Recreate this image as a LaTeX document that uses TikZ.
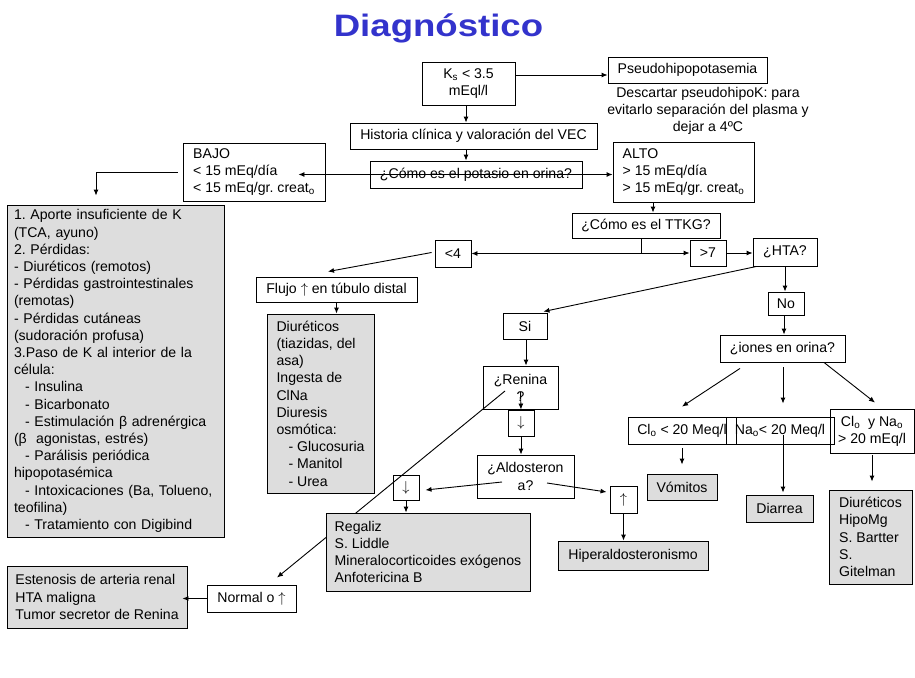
\documentclass[tikz,border=0pt]{standalone}
\usepackage{fontspec}
\setmainfont{Liberation Sans}
\usetikzlibrary{arrows.meta,backgrounds}
\definecolor{panel}{RGB}{221,221,221}
\definecolor{titleblue}{RGB}{51,51,204}
\frenchspacing

\begin{document}
\begin{tikzpicture}[x=1pt, y=-1pt,
  font=\fontsize{14.1}{17.2}\selectfont,
  box/.style = {shape=rectangle, draw, line width=0.9pt,
    inner sep=0pt, align=center},
  panelbox/.style = {box, fill=panel, align=left},
  arr/.style = {-{Latex[length=6pt,width=5pt]}, line width=0.9pt},
  dblarr/.style = {{Latex[length=6pt,width=5pt]}-{Latex[length=6pt,width=5pt]}, line width=0.9pt}]
  \useasboundingbox (0,0) rectangle (915,677);
  \begin{scope}[on background layer]
    \fill[white] (0,0) rectangle (915,677);
  \end{scope}

  \node[font=\bfseries\fontsize{31}{34}\selectfont, text=titleblue, anchor=base] (title)
    at (438.5,37) {\scalebox{1.18}[1]{Diagnóstico}};

  % top of the chart
  \node[box, minimum width=93pt, minimum height=43pt] (ks) at (468.5,83.5)
    {K\textsubscript{s} < 3.5\\ mEql/l};
  \node[box, minimum width=159pt, minimum height=26pt] (pseudo) at (687.5,70)
    {Pseudohipopotasemia};
  \node[align=center, inner sep=0pt] (note) at (708,111)
    {Descartar pseudohipoK: para\\ evitarlo separación del plasma y\\ dejar a 4ºC};
  \node[box, minimum width=247pt, minimum height=26pt] (hist) at (473.5,136)
    {Historia clínica y valoración del VEC};
  \node[box, minimum width=212pt, minimum height=27pt] (pot) at (476,174.5)
    {¿Cómo es el potasio en orina?};
  \node[box, align=left, minimum width=142pt, minimum height=58pt] (bajo) at (254,172)
    {BAJO\\ < 15 mEq/día\\ < 15 mEq/gr. creat\textsubscript{o}};
  \node[box, align=left, minimum width=141pt, minimum height=60pt] (alto) at (683.5,172)
    {ALTO\\ > 15 mEq/día\\ > 15 mEq/gr. creat\textsubscript{o}};

  % low urine potassium
  \node[panelbox, text width=203pt, inner xsep=7pt, minimum height=332pt] (causes) at (115.5,371)
    {1. Aporte insuficiente de K\\
     (TCA, ayuno)\\
     2. Pérdidas:\\
     - Diuréticos (remotos)\\
     - Pérdidas gastrointestinales\\
     (remotas)\\
     - Pérdidas cutáneas\\
     (sudoración profusa)\\
     3.Paso de K al interior de la\\
     célula:\\
     \hspace*{11pt}- Insulina\\
     \hspace*{11pt}- Bicarbonato\\
     \hspace*{11pt}- Estimulación β adrenérgica\\
     (β\ \ agonistas, estrés)\\
     \hspace*{11pt}- Parálisis periódica\\
     hipopotasémica\\
     \hspace*{11pt}- Intoxicaciones (Ba, Tolueno,\\
     teofilina)\\
     \hspace*{11pt}- Tratamiento con Digibind};

  % TTKG
  \node[box, minimum width=148pt, minimum height=25pt] (ttkg) at (646,225.5) {¿Cómo es el TTKG?};
  \node[box, minimum width=36pt, minimum height=27pt] (low) at (453,253.5) {<4};
  \node[box, minimum width=36pt, minimum height=26pt] (high) at (708,253) {>7};
  \node[box, minimum width=64pt, minimum height=28pt] (hta) at (785,252) {¿HTA?};
  \node[box, minimum width=36pt, minimum height=23pt] (no) at (786,303.5) {No};
  \node[box, minimum width=161pt, minimum height=25pt] (flujo) at (336.5,289.5)
    {Flujo $\uparrow$ en túbulo distal};
  \node[panelbox, minimum width=107pt, minimum height=179pt] (diur) at (320.5,403.5)
    {Diuréticos\\ (tiazidas, del\\ asa)\\ Ingesta de\\ ClNa\\ Diuresis\\ osmótica:\\
     \hspace*{12pt}- Glucosuria\\ \hspace*{12pt}- Manitol\\ \hspace*{12pt}- Urea};

  % hypertension
  \node[box, minimum width=44pt, minimum height=26pt] (si) at (525,326) {Si};
  \node[box, minimum width=75pt, minimum height=43pt] (renina) at (520.5,387.5) {¿Renina\\ ?};
  \node[box, minimum size=26pt] (rdown) at (521,423) {$\downarrow$};
  \node[box, minimum width=97pt, minimum height=43pt] (aldo) at (525.5,476.5) {¿Aldosteron\\ a?};
  \node[box, minimum width=26pt, minimum height=25pt] (adown) at (406,487.5) {$\downarrow$};
  \node[box, minimum size=27pt] (aup) at (623.5,499.5) {$\uparrow$};
  \node[panelbox, minimum width=150pt, minimum height=29pt] (hiper) at (633,555.5)
    {Hiperaldosteronismo};
  \node[panelbox, minimum width=204pt, minimum height=78pt] (regaliz) at (428,552)
    {Regaliz\\ S. Liddle\\ Mineralocorticoides exógenos\\ Anfotericina B};
  \node[box, minimum width=89pt, minimum height=27pt] (normal) at (251.5,598.5)
    {Normal o $\uparrow$};
  \node[panelbox, minimum width=180pt, minimum height=62pt] (esten) at (97,597)
    {Estenosis de arteria renal\\ HTA maligna\\ Tumor secretor de Renina};

  % no hypertension
  \node[box, minimum width=125pt, minimum height=27pt] (iones) at (782.5,348.5) {¿iones en orina?};
  \node[box, minimum width=108pt, minimum height=27pt] (clo) at (682,430.5)
    {Cl\textsubscript{o} < 20 Meq/l};
  \node[box, minimum width=108pt, minimum height=27pt] (nao) at (780,430.5)
    {Na\textsubscript{o}< 20 Meq/l};
  \node[box, minimum width=84pt, minimum height=44pt] (both) at (872,431)
    {Cl\textsubscript{o}\ \ y Na\textsubscript{o}\\ > 20 mEq/l};
  \node[panelbox, minimum width=70pt, minimum height=26pt] (vomit) at (682,487) {Vómitos};
  \node[panelbox, minimum width=67pt, minimum height=27pt] (diarrea) at (779.5,508.5) {Diarrea};
  \node[panelbox, minimum width=83pt, minimum height=94pt] (diur2) at (870.5,537)
    {Diuréticos\\ HipoMg\\ S. Bartter\\ S.\\ Gitelman};

  % connectors
  \draw[arr] ([yshift=8.5pt]ks.east) -- ([yshift=-5pt]pseudo.west);
  \draw[arr] ([xshift=-2.5pt]ks.south) -- ([xshift=-2.5pt]ks.south |- hist.north);
  \draw[arr] ([xshift=-2.5pt]ks.south |- hist.south) -- ([xshift=-2.5pt]ks.south |- pot.north);
  \draw[dblarr] ([xshift=-27pt]bajo.east |- pot.west) -- (alto.west |- pot.west);
  \draw[arr] ([xshift=-5pt]bajo.west) -| ([xshift=-19.5pt,yshift=9pt]causes.north);
  \draw[arr] ([xshift=-30.5pt]alto.south) -- ([xshift=-30.5pt]alto.south |- ttkg.north);
  \draw[arr] ([xshift=-5pt]ttkg.south) |- (low.east);
  \draw[arr] ([xshift=-5pt]ttkg.south) |- (high.west);
  \draw[arr] (high.east) -- (high.east -| hta.west);
  \draw[arr] (hta.south) -- (hta.south |- no.north);
  \draw[arr] ([xshift=4pt]hta.south west) -- ([xshift=-4pt,yshift=1pt]si.north east);
  \draw[arr] ([xshift=-3pt,yshift=1pt]low.west) -- ([xshift=-8.5pt,yshift=5pt]flujo.north);
  \draw[arr] (flujo.south) -- (flujo.south |- diur.north);
  \draw[arr] ([xshift=1pt]si.south) -- ([xshift=1pt]si.south |- renina.north);
  \draw[arr] ([yshift=-4.5pt]renina.center) -- (rdown.north);
  \draw[arr] (rdown.south) -- (rdown.south |- aldo.north);
  \draw[arr] ([xshift=-23.5pt,yshift=-5.5pt]aldo.center) -- ([xshift=6pt,yshift=-2.5pt]adown.east);
  \draw[arr] ([xshift=21.5pt,yshift=-6.5pt]aldo.center) -- ([xshift=-3pt,yshift=7.5pt]aup.west);
  \draw[arr] (adown.south) -- (adown.south |- regaliz.north);
  \draw[arr] (aup.south) -- (aup.south |- hiper.north);
  \draw[arr] (normal.west) -- ([xshift=-5pt]esten.east |- normal.west);
  \draw[arr] ([xshift=-2pt]no.south) -- ([xshift=-2pt]no.south |- iones.north);
  \draw[arr] ([xshift=-42.5pt,yshift=-6pt]iones.south) -- ([yshift=10pt]clo.north);
  \draw[arr] ([xshift=0.5pt,yshift=-5pt]iones.south) -- ([xshift=0.5pt,yshift=13pt]iones.south |- nao.north);
  \draw[arr] ([xshift=41.5pt]iones.south) -- ([xshift=3pt,yshift=6pt]both.north);
  \draw[arr] ([yshift=-4pt]clo.south) -- ([yshift=9pt]vomit.north);
  \draw[arr] ([xshift=3pt,yshift=9pt]nao.south) -- ([xshift=3pt,yshift=2pt]nao.south |- diarrea.north);
  \draw[arr] ([yshift=-2pt]both.south) -- ([yshift=8pt]both.south |- diur2.north);
  \begin{scope}[on background layer]
    \draw[arr] ([xshift=-15.5pt,yshift=-3.5pt]renina.center) -- ([xshift=25.5pt,yshift=7pt]normal.north);
  \end{scope}
\end{tikzpicture}
\end{document}
